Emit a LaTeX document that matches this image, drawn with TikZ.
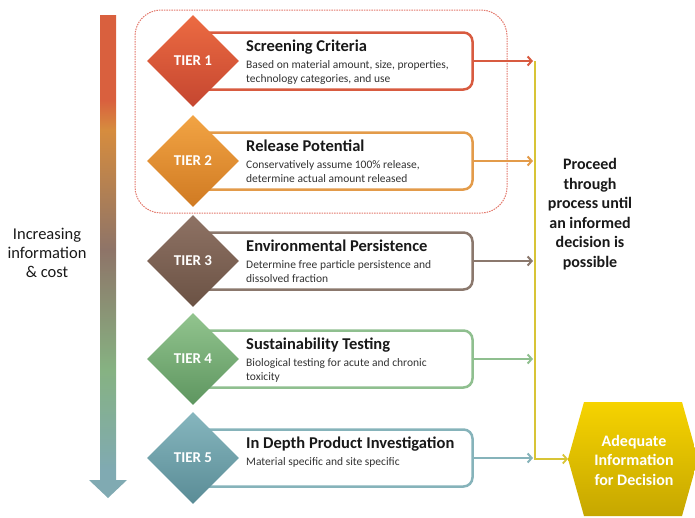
\documentclass[tikz,border=0pt]{standalone}
\usepackage{fontspec}
\setmainfont{Carlito}
\usetikzlibrary{shapes.geometric,arrows.meta}

\definecolor{tierln1}{HTML}{D85B40}\definecolor{tierhi1}{HTML}{EC6B42}\definecolor{tierlo1}{HTML}{C54630}
\definecolor{tierln2}{HTML}{E39B4A}\definecolor{tierhi2}{HTML}{F2A444}\definecolor{tierlo2}{HTML}{D07A22}
\definecolor{tierln3}{HTML}{8B786D}\definecolor{tierhi3}{HTML}{8E7264}\definecolor{tierlo3}{HTML}{6B5244}
\definecolor{tierln4}{HTML}{8FBF8F}\definecolor{tierhi4}{HTML}{92C48E}\definecolor{tierlo4}{HTML}{5E9660}
\definecolor{tierln5}{HTML}{86B3BA}\definecolor{tierhi5}{HTML}{86B6BE}\definecolor{tierlo5}{HTML}{5A8C96}
\definecolor{costred}{HTML}{D9603E}
\definecolor{costorange}{HTML}{D68C3E}
\definecolor{costbrown}{HTML}{8E7468}
\definecolor{costgreen}{HTML}{86B282}
\definecolor{costteal}{HTML}{80AAB2}
\definecolor{decisionhi}{HTML}{F6D300}
\definecolor{decisionlo}{HTML}{C6A700}
\definecolor{spinecol}{HTML}{D8C436}
\definecolor{groupdash}{HTML}{E2776A}

\pgfdeclareverticalshading{infocost}{100bp}{color(0bp)=(costteal); color(27.9bp)=(costteal);
  color(38.3bp)=(costgreen); color(50.7bp)=(costbrown); color(63.1bp)=(costorange);
  color(66.2bp)=(costred); color(100bp)=(costred)}

\tikzset{
  tierbox/.style={draw,line width=2.5pt,rounded corners=9pt,fill=white,
    minimum width=287pt,minimum height=57pt,inner sep=0pt},
  tierdiamond/.style={diamond,aspect=1,inner sep=0pt,minimum size=92pt,
    text=white,font=\fontsize{15}{18}\selectfont\bfseries},
  tiertitle/.style={anchor=base west,inner sep=0pt,text=black!90,
    font=\fontsize{16.5}{20}\selectfont\bfseries},
  tierdesc/.style={anchor=north west,inner sep=0pt,align=left,text=black!80,
    font=\fontsize{11.5}{14}\selectfont},
  tierarrow/.style={line width=2pt,-{Straight Barb[length=4pt,width=9pt]},shorten >=2pt},
  sidetext/.style={align=center,inner sep=0pt,text=black!90,
    font=\fontsize{16}{19.5}\selectfont\bfseries}
}

\begin{document}
\begin{tikzpicture}[x=1pt,y=-1pt]
  \useasboundingbox (0,0) rectangle (695,517);
  % information & cost arrow
  \shade[shading=infocost] (100,15) -- (116,15) -- (116,480) -- (127,480) -- (108,498)
    -- (89,480) -- (100,480) -- cycle;
  \node[sidetext,font=\fontsize{16.5}{19}\selectfont] (cost) at (47,253) {Increasing\\information\\\& cost};
  % tiers 1 and 2 group
  \draw[groupdash,line width=1pt,dash pattern=on 1.5pt off 1pt,rounded corners=26pt]
    (135,10) rectangle (507,213);
  \coordinate (spinetop) at (535,61);
  \coordinate (spinebot) at (535,459);
  \coordinate (hexwest) at (568,459);
  \foreach \n/\cy/\head/\txt in {%
    1/61/Screening Criteria/{Based on material amount, size, properties,\\technology categories, and use},
    2/161/Release Potential/{Conservatively assume 100\% release,\\determine actual amount released},
    3/261/Environmental Persistence/{Determine free particle persistence and\\dissolved fraction},
    4/359/Sustainability Testing/{Biological testing for acute and chronic\\toxicity},
    5/458/In Depth Product Investigation/{Material specific and site specific}}
  {
    \node[tierbox,draw=tierln\n] (box\n) at (329,\cy) {};
    \node[tierdiamond,top color=tierhi\n,bottom color=tierlo\n] (tier\n) at (193,\cy) {TIER \n};
    \node[tiertitle] (head\n) at (246,\cy-10) {\head};
    \node[tierdesc] (txt\n) at (246,\cy-1) {\txt};
    \draw[tierarrow,tierln\n] (box\n.east) -- (box\n.east -| spinetop);
  }
  % decision
  \shade[top color=decisionhi,bottom color=decisionlo] (568,459) -- (584,402) -- (682,402)
    -- (698,459) -- (682,516) -- (584,516) -- cycle;
  \node[sidetext,text=white] (decision) at (634,460) {Adequate\\Information\\for Decision};
  \draw[tierarrow,spinecol,line width=1.8pt,shorten >=0pt] (spinetop) -- (spinebot) -- (hexwest);
  \node[sidetext] (proceed) at (590,214) {Proceed\\through\\process until\\an informed\\decision is\\possible};
\end{tikzpicture}
\end{document}
